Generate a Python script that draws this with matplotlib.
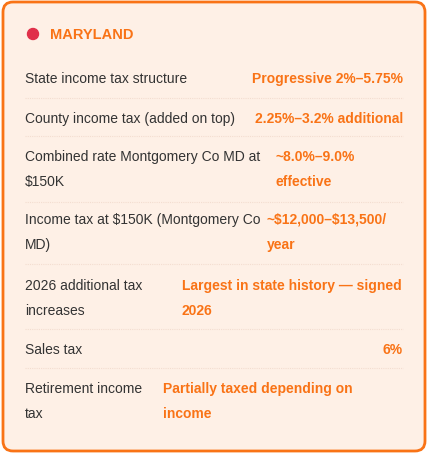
import matplotlib
matplotlib.use("Agg")
import matplotlib.pyplot as plt
from matplotlib.patches import FancyBboxPatch, Circle
plt.rcParams["text.parse_math"] = False

title = "MARYLAND"
labels = [["State income tax structure"], ["County income tax (added on top)"],
          ["Combined rate Montgomery Co MD at", "$150K"],
          ["Income tax at $150K (Montgomery Co", "MD)"],
          ["2026 additional tax", "increases"], ["Sales tax"],
          ["Retirement income", "tax"]]
values = [["Progressive 2%–5.75%"], ["2.25%–3.2% additional"],
          ["~8.0%–9.0%", "effective"], ["~$12,000–$13,500/", "year"],
          ["Largest in state history — signed", "2026"], ["6%"],
          ["Partially taxed depending on", "income"]]
row_y = [79, 119, 157, 220, 286, 350, 389]
val_x = [None, None, 276, 267, 182, None, 163]
seps = [99, 137, 203, 265, 330, 369]

fig = plt.figure(figsize=(4.28, 4.56), dpi=100)
ax = fig.add_axes([0, 0, 1, 1])
ax.set_xlim(0, 428); ax.set_ylim(456, 0); ax.axis("off")
fam = ["Liberation Sans", "DejaVu Sans"]
orange = "#F97316"
ax.add_patch(FancyBboxPatch((3, 3), 422, 449, boxstyle="round,pad=0,rounding_size=10",
                            fc="#FEF0E6", ec=orange, lw=2))
ax.add_patch(Circle((33, 35), 5.5, color="#E0304A"))
ax.text(50, 35, title, color=orange, fontsize=10.5, fontweight="bold", va="center", family=fam)
for y in seps:
    ax.plot([25, 403], [y, y], color="#F3DDD0", lw=0.8, ls=(0, (1, 1)))
lh = 25
fs = 10
for lab, val, y, vx in zip(labels, values, row_y, val_x):
    for i, t in enumerate(lab):
        ax.text(25, y + i * lh, t, color="#333333", fontsize=fs, va="center", family=fam)
    for i, t in enumerate(val):
        if vx is None:
            ax.text(403, y + i * lh, t, color=orange, fontsize=fs, fontweight="bold",
                    va="center", ha="right", family=fam)
        else:
            ax.text(vx, y + i * lh, t, color=orange, fontsize=fs, fontweight="bold",
                    va="center", ha="left", family=fam)
fig.savefig("out.png", dpi=100)
